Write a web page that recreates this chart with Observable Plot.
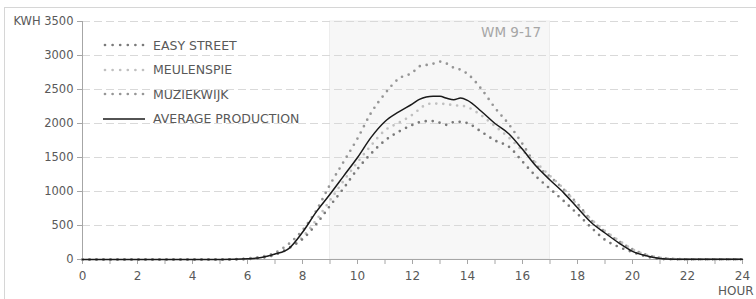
<!DOCTYPE html>
<html>
<head>
<meta charset="utf-8">
<script src="https://cdn.jsdelivr.net/npm/d3@7"></script>
<script src="https://cdn.jsdelivr.net/npm/@observablehq/plot@0.6"></script>
<style>
  html, body { margin: 0; padding: 0; background: #fff; }
  #wrap { position: relative; width: 756px; height: 299px; overflow: hidden; font-family: "DejaVu Sans", sans-serif; }
  #frame { position: absolute; left: 4px; top: 7px; width: 800px; height: 400px; border-left: 1.5px solid #d6d6d6; border-top: 1.5px solid #d6d6d6; box-sizing: border-box; }
  #chart { position: absolute; left: 0; top: 0; }
  #legend { position: absolute; left: 103px; top: 33px; font-size: 12.5px; color: #595959; }
  #legend .row { display: flex; align-items: center; height: 24.5px; }
  #legend svg { margin-right: 8px; }
</style>
</head>
<body>
<div id="wrap">
  <div id="frame"></div>
  <div id="chart"></div>
  <div id="legend"></div>
</div>
<script>
// Hours of the day (x values)
const hours = [0,1,2,3,4,5,5.5,6,6.5,7,7.5,8,8.5,9,9.5,10,10.5,11,11.5,12,12.25,12.5,12.75,13,13.25,13.5,13.75,14,14.5,15,15.5,16,16.5,17,17.5,18,18.5,19,19.5,20,20.5,21,21.5,22,23,24];

// kWh per series
const easyStreet = [0,0,0,0,0,0,2,8,25,70,170,300,520,790,1050,1330,1560,1750,1880,1980,2020,2035,2035,2010,1980,2020,2025,2005,1880,1750,1660,1440,1220,1040,860,670,470,290,185,110,45,10,3,2,2,2];
const meulenspie = [0,0,0,0,0,0,2,8,25,70,160,330,580,870,1160,1430,1680,1900,2010,2130,2210,2280,2295,2290,2288,2265,2264,2240,2120,1960,1795,1600,1420,1230,1040,800,590,420,280,150,70,25,8,3,3,3];
const muziekwijk = [0,0,0,0,0,0,3,15,40,100,230,430,720,1100,1440,1780,2160,2440,2660,2750,2840,2860,2880,2910,2880,2820,2790,2730,2510,2230,1990,1700,1390,1220,1030,820,580,410,270,150,70,25,8,3,3,3];
const averageProduction = [0,0,0,0,0,0,2,10,30,80,160,400,700,960,1230,1500,1800,2030,2170,2290,2355,2390,2400,2400,2370,2350,2375,2340,2180,2000,1850,1620,1370,1170,980,760,545,390,245,120,55,15,5,3,3,3];

const seriesNames = ["EASY STREET", "MEULENSPIE", "MUZIEKWIJK", "AVERAGE PRODUCTION"];
const seriesColors = ["#7a7a7a", "#c0c0c0", "#969696", "#1a1a1a"];

const yTicks = [0,500,1000,1500,2000,2500,3000,3500];
const xTicks = d3.range(0, 25, 1);
const yUnit = "KWH";
const xUnit = "HOUR";
const window_ = {from: 9, to: 17, label: "WM 9-17"};

const data = hours.map((h, i) => ({
  hour: h,
  easy: easyStreet[i],
  meul: meulenspie[i],
  muz: muziekwijk[i],
  avg: averageProduction[i]
}));

const dotted = (key, color) => Plot.line(data, {
  x: "hour", y: key, stroke: color, strokeWidth: 2.7,
  strokeDasharray: "0,7", strokeLinecap: "round", curve: "monotone-x"
});

const chart = Plot.plot({
  width: 756, height: 299,
  marginLeft: 82, marginRight: 14, marginTop: 21, marginBottom: 40,
  x: {domain: [0, 24]},
  y: {domain: [0, 3500]},
  style: {fontFamily: "DejaVu Sans, sans-serif", fontSize: "11.5px", color: "#595959", background: "transparent"},
  marks: [
    Plot.rectY([window_], {x1: "from", x2: "to", y1: () => 0, y2: () => 3500, fill: "#f7f7f7", stroke: "#ededed", strokeWidth: 1}),
    Plot.ruleY(yTicks.filter(d => d > 0), {x1: 0, x2: 24, stroke: "#d9d9d9", strokeWidth: 1, strokeDasharray: "8,4"}),
    Plot.text([window_], {x: "to", y: () => 3500, text: "label", textAnchor: "end", lineAnchor: "top", dx: -9, dy: 6, fill: "#a6a6a6", fontSize: 13.5}),
    Plot.ruleX([0], {stroke: "#a6a6a6"}),
    Plot.ruleY([0], {stroke: "#a6a6a6"}),
    Plot.axisY({ticks: yTicks, tickSize: 5, tickPadding: 4, stroke: "#a6a6a6", label: null,
      tickFormat: d => d === 3500 ? `${yUnit} ${d}` : String(d)}),
    Plot.axisX({ticks: xTicks, tickSize: 5, tickPadding: 7, stroke: "#a6a6a6", fontSize: 12,
      tickFormat: d => d % 2 === 0 ? String(d) : "", label: xUnit, labelAnchor: "right", labelArrow: "none", labelOffset: 35}),
    dotted("muz", seriesColors[2]),
    dotted("meul", seriesColors[1]),
    dotted("easy", seriesColors[0]),
    Plot.line(data, {x: "hour", y: "avg", stroke: seriesColors[3], strokeWidth: 1.5, curve: "monotone-x"})
  ]
});
document.getElementById("chart").appendChild(chart);

// Legend
const legend = document.getElementById("legend");
seriesNames.forEach((name, i) => {
  const row = document.createElement("div");
  row.className = "row";
  const solid = i === 3;
  row.innerHTML = `<svg width="42" height="6"><line x1="${solid ? 0 : 2}" x2="${solid ? 42 : 41}" y1="3" y2="3" stroke="${seriesColors[i]}" stroke-width="${solid ? 1.5 : 2.7}" ${solid ? "" : 'stroke-dasharray="0,7.6" stroke-linecap="round"'}/></svg><span>${name}</span>`;
  legend.appendChild(row);
});
</script>
</body>
</html>
